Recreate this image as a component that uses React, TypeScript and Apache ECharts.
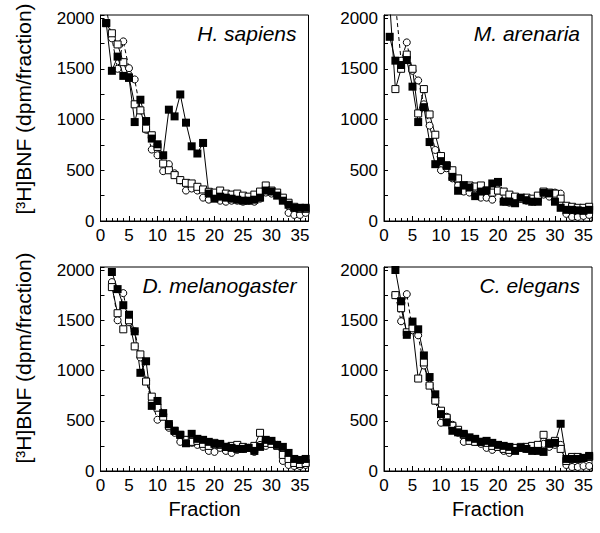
import React, { useEffect, useRef } from "react";
import * as echarts from "echarts";

// ---- data ----
const speciesNames = ["H. sapiens", "M. arenaria", "D. melanogaster", "C. elegans"];
const firstFraction = [1, 1, 2, 2];

const hsFilled = [1950,1480,1620,1430,1410,975,1195,985,812,756,648,1097,1031,1247,969,736,665,769,270,220,240,230,220,210,200,200,210,230,300,290,250,200,160,130,130,130];
const hsOpen = [1950,1850,1740,1565,1417,1150,1090,910,845,730,566,500,452,403,376,370,337,311,288,280,300,270,260,270,250,240,260,290,350,300,280,230,180,140,120,120];
const hsCircle = [2100,1800,1500,1770,1506,1395,1090,900,704,648,491,560,470,400,300,320,300,230,210,230,200,190,200,200,190,200,190,220,280,270,260,220,80,60,60,80];

const maFilled = [1815,1580,1537,1586,1324,975,1122,778,560,590,543,435,298,353,330,245,290,300,370,385,190,190,175,230,205,190,190,278,272,190,130,110,110,105,100,110];
const maOpen = [2150,1300,1500,1640,1500,1060,1300,1050,850,640,550,500,420,350,350,340,350,300,280,300,290,260,240,220,230,220,250,290,280,270,220,150,140,130,130,140];
const maCircle = [2200,2150,1580,1760,1480,1385,1150,940,700,500,520,420,350,290,280,260,230,230,210,300,190,180,200,220,200,190,200,260,240,280,270,70,40,40,50,60];

const dmFilled = [1980,1810,1650,1555,1390,977,1092,648,697,576,467,400,360,276,370,320,310,290,270,270,240,230,220,220,230,200,240,310,300,260,240,180,120,110,120];
const dmOpen = [1830,1570,1410,1500,1240,1160,890,740,630,540,450,400,360,310,290,300,270,250,280,260,240,250,260,240,230,250,380,280,270,250,160,120,80,70,80];
const dmCircle = [1880,1500,1770,1480,1390,1130,900,690,510,560,430,380,290,310,280,260,240,200,190,230,200,180,210,220,230,190,260,250,270,260,100,60,50,50,60];

const ceFilled = [2000,1690,1355,1487,1410,1150,935,763,566,484,400,385,370,335,320,290,300,280,260,250,240,200,230,220,200,200,190,270,280,470,120,120,120,130,150];
const ceOpen = [1750,1620,1380,1420,920,1080,850,700,600,530,450,410,360,300,290,290,280,250,240,220,210,230,240,240,250,260,360,280,300,220,100,140,140,130,140];
const ceCircle = [1750,1490,1760,1400,1350,1050,860,700,480,540,460,380,290,320,290,270,230,210,240,200,180,220,230,220,240,250,270,240,260,260,60,40,40,50,50];

const filledSets = [hsFilled, maFilled, dmFilled, ceFilled];
const openSets = [hsOpen, maOpen, dmOpen, ceOpen];
const circleSets = [hsCircle, maCircle, dmCircle, ceCircle];

const yTitle = "[³H]BNF (dpm/fraction)";
const xTitle = "Fraction";

// ---- layout ----
const FONT = '"Liberation Sans", Arial, Helvetica, sans-serif';
const layout = [
  { left: 100.5, top: 15, width: 208, height: 206 },
  { left: 384, top: 15, width: 208, height: 206 },
  { left: 100.5, top: 267, width: 208, height: 204 },
  { left: 384, top: 267, width: 208, height: 204 },
];
const yTitlePos = [
  { x: 23, y: 109 },
  { x: 23, y: 358 },
];
const X_MAX = 36.5;
const Y_MAX = 2030;

function pairs(values: number[], start: number) {
  return values.map((v, i) => [start + i, v]);
}

function buildOption() {
  const grid: any[] = [];
  const xAxis: any[] = [];
  const yAxis: any[] = [];
  const series: any[] = [];
  const graphic: any[] = [];

  layout.forEach((g, i) => {
    const isBottom = i >= 2;
    grid.push({
      left: g.left,
      top: g.top,
      width: g.width,
      height: g.height,
      show: true,
      borderColor: "#000",
      borderWidth: 1,
      backgroundColor: "transparent",
    });
    // minor ticks axis (used by series)
    xAxis.push({
      gridIndex: i,
      type: "value",
      min: 0,
      max: X_MAX,
      interval: 1,
      position: "bottom",
      axisLine: { show: true, onZero: false, lineStyle: { color: "#000", width: 1 } },
      axisTick: { show: true, inside: true, length: 3, lineStyle: { color: "#000", width: 1 } },
      axisLabel: { show: false },
      splitLine: { show: false },
    });
    // major ticks + labels
    xAxis.push({
      gridIndex: i,
      type: "value",
      min: 0,
      max: X_MAX,
      interval: 5,
      position: "bottom",
      axisLine: { show: false, onZero: false },
      axisTick: { show: true, inside: true, length: 5, lineStyle: { color: "#000", width: 1 } },
      axisLabel: {
        show: true,
        color: "#000",
        fontSize: 17,
        fontFamily: FONT,
        margin: 6,
        formatter: (v: number) => (v % 5 === 0 && v <= 35 ? String(v) : ""),
      },
      splitLine: { show: false },
      name: isBottom ? xTitle : "",
      nameLocation: "middle",
      nameGap: 28,
      nameTextStyle: { color: "#000", fontSize: 20, fontFamily: FONT },
    });
    yAxis.push({
      gridIndex: i,
      type: "value",
      min: 0,
      max: Y_MAX,
      interval: 250,
      axisLine: { show: true, onZero: false, lineStyle: { color: "#000", width: 1 } },
      axisTick: { show: true, inside: true, length: 4, lineStyle: { color: "#000", width: 1 } },
      axisLabel: {
        color: "#000",
        fontSize: 17,
        fontFamily: FONT,
        margin: 6,
        formatter: (v: number) => (v % 500 === 0 ? String(v) : ""),
      },
      splitLine: { show: false },
    });

    const start = firstFraction[i];
    const xIdx = i * 2;
    series.push({
      type: "line",
      xAxisIndex: xIdx,
      yAxisIndex: i,
      data: pairs(circleSets[i], start),
      symbol: "circle",
      symbolSize: 7,
      clip: true,
      itemStyle: { color: "#fff", borderColor: "#000", borderWidth: 1 },
      lineStyle: { color: "#000", width: 1, type: [4, 3] },
      emphasis: { disabled: true },
      silent: true,
    });
    series.push({
      type: "line",
      xAxisIndex: xIdx,
      yAxisIndex: i,
      data: pairs(openSets[i], start),
      symbol: "rect",
      symbolSize: 7,
      clip: true,
      itemStyle: { color: "#fff", borderColor: "#000", borderWidth: 1 },
      lineStyle: { color: "#000", width: 1 },
      emphasis: { disabled: true },
      silent: true,
    });
    series.push({
      type: "line",
      xAxisIndex: xIdx,
      yAxisIndex: i,
      data: pairs(filledSets[i], start),
      symbol: "rect",
      symbolSize: 8,
      clip: true,
      itemStyle: { color: "#000", borderColor: "#000", borderWidth: 0 },
      lineStyle: { color: "#000", width: 1 },
      emphasis: { disabled: true },
      silent: true,
    });

    graphic.push({
      type: "text",
      x: g.left + g.width - 12,
      y: g.top + 18,
      style: {
        text: speciesNames[i],
        font: `italic 21px ${FONT}`,
        fill: "#000",
        textAlign: "right",
        textVerticalAlign: "middle",
      },
      silent: true,
    });
  });

  yTitlePos.forEach((p) => {
    graphic.push({
      type: "text",
      x: p.x,
      y: p.y,
      rotation: Math.PI / 2,
      style: {
        text: yTitle,
        font: `21px ${FONT}`,
        fill: "#000",
        textAlign: "center",
        textVerticalAlign: "middle",
      },
      silent: true,
    });
  });

  return {
    animation: false,
    backgroundColor: "#fff",
    grid,
    xAxis,
    yAxis,
    series,
    graphic,
  };
}

export default function App() {
  const ref = useRef<HTMLDivElement>(null);
  useEffect(() => {
    document.body.style.margin = "0";
    if (!ref.current) return;
    const chart = echarts.init(ref.current, undefined, { renderer: "svg" });
    chart.setOption(buildOption() as any);
    return () => chart.dispose();
  }, []);
  return <div ref={ref} style={{ width: 600, height: 533 }} />;
}
